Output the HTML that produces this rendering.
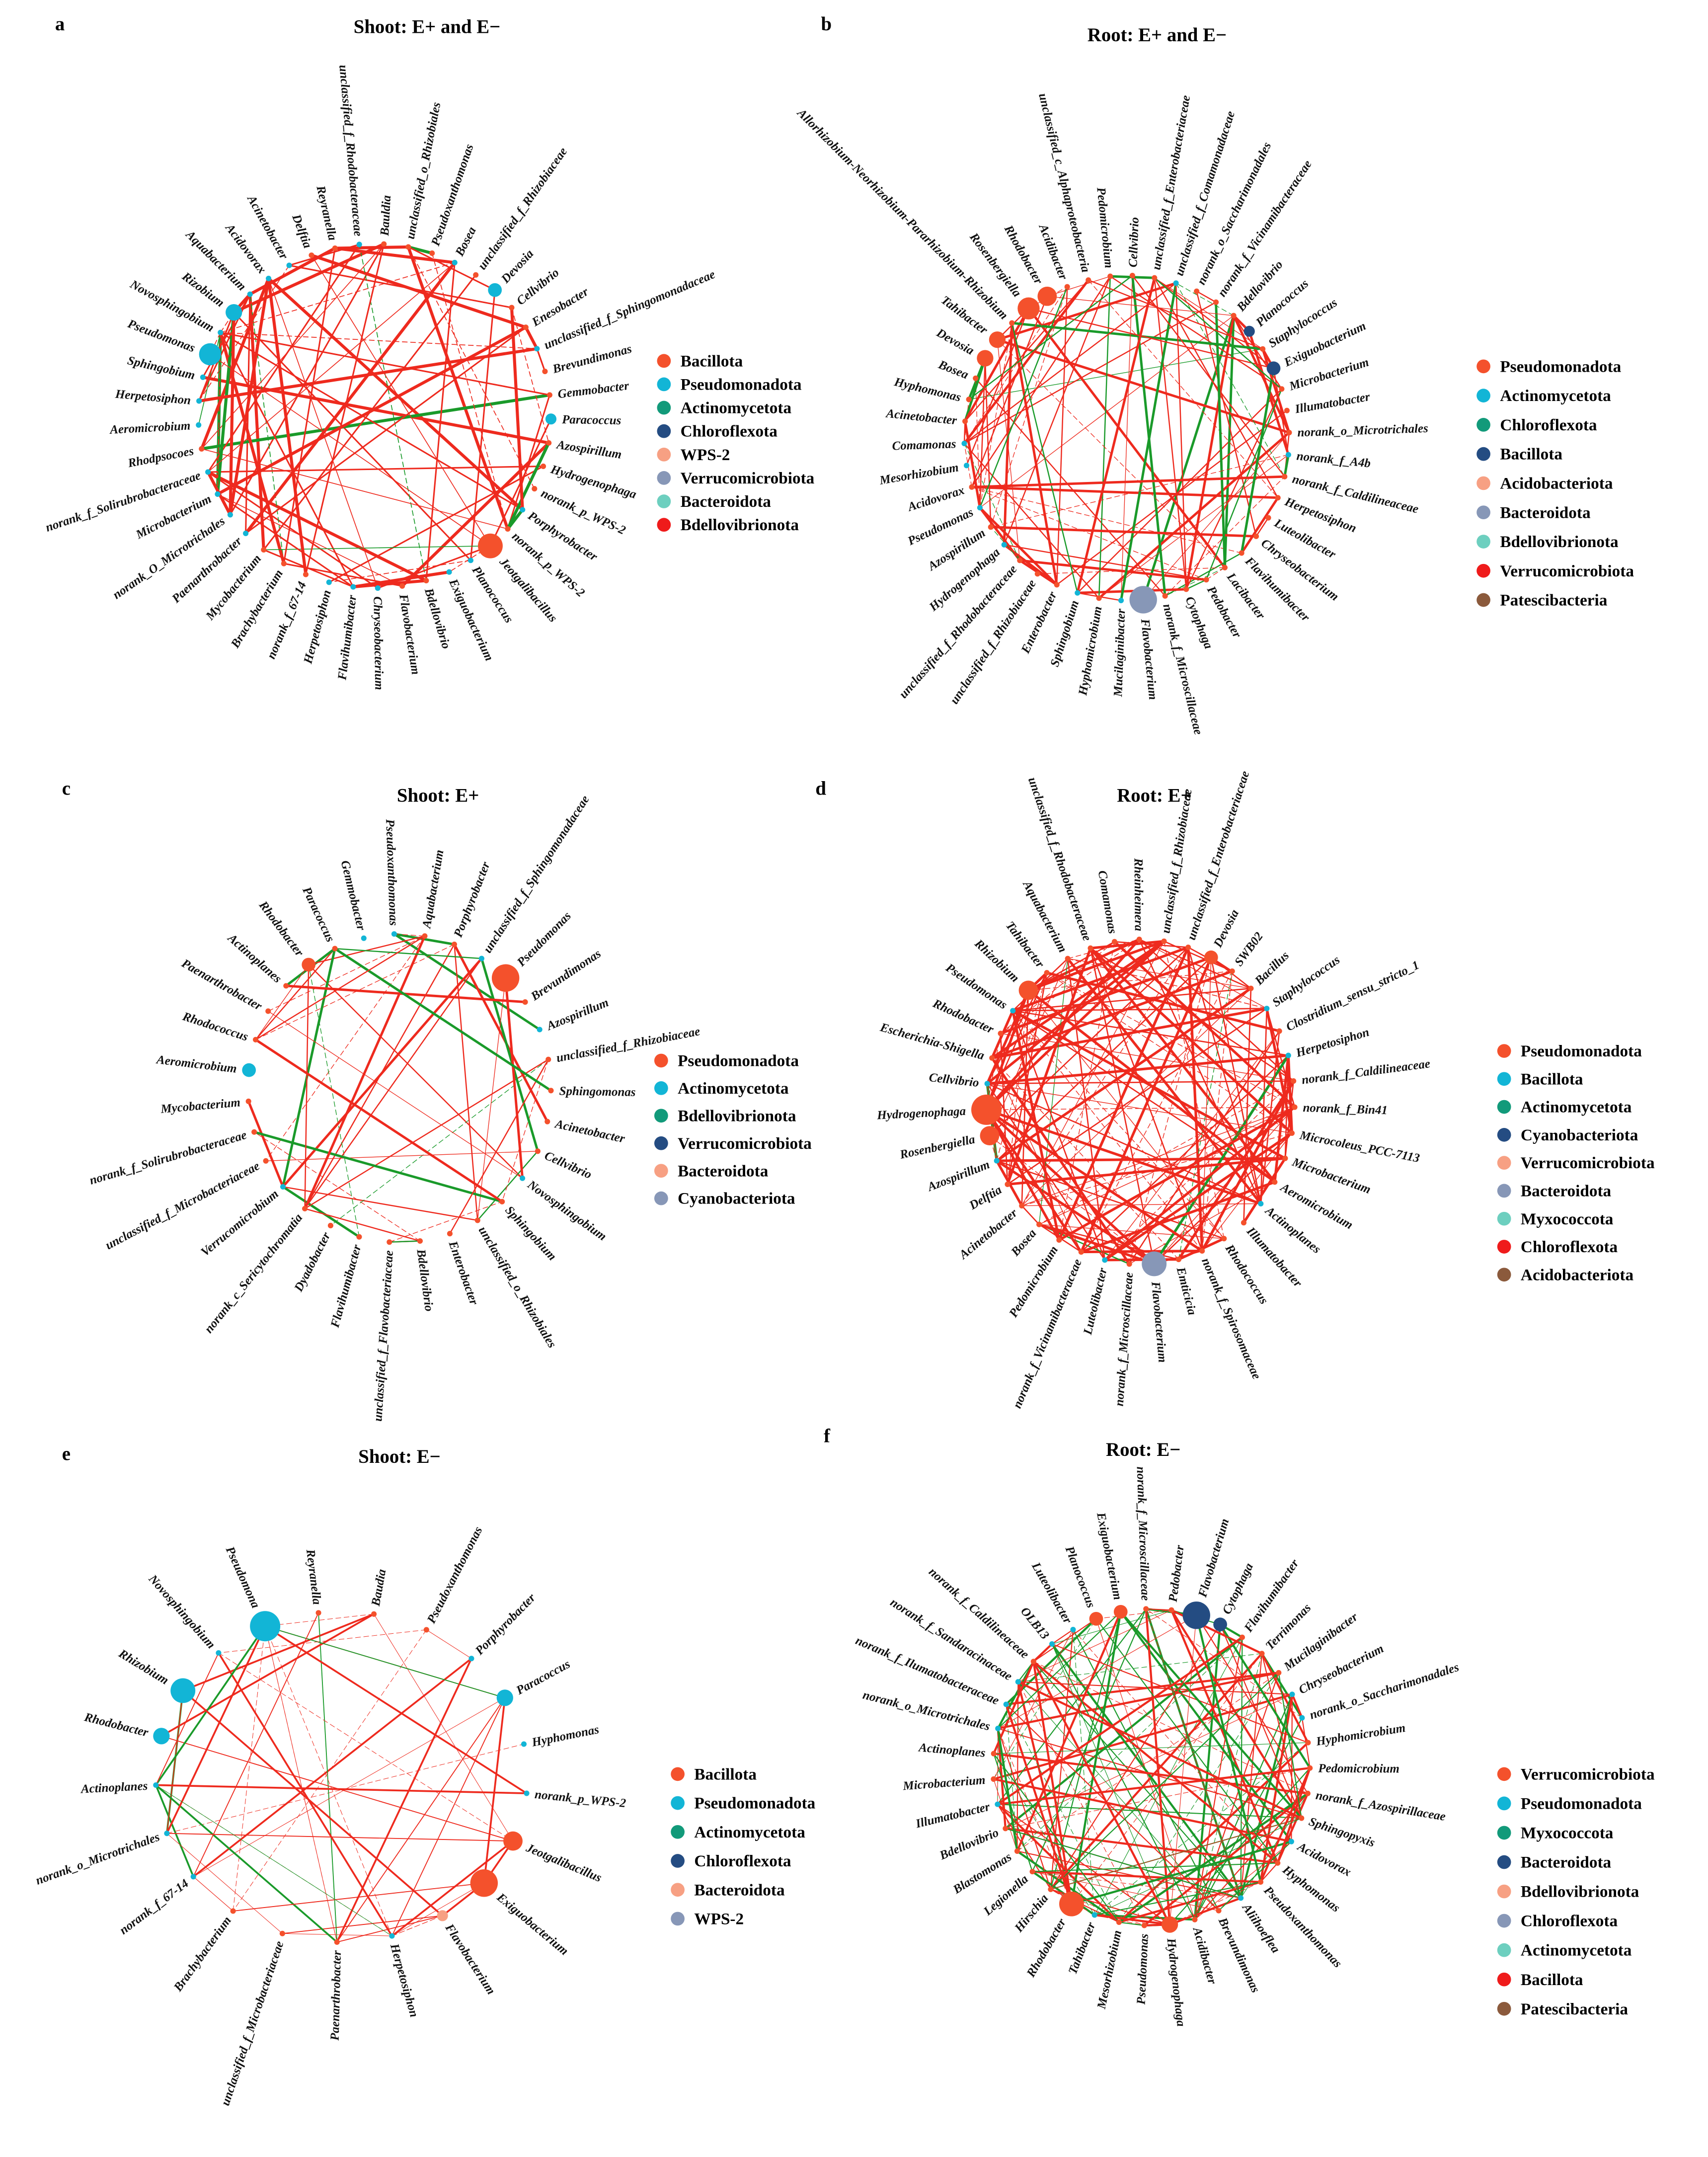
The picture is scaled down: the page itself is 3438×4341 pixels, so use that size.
<!DOCTYPE html>
<html><head><meta charset="utf-8"><style>
html,body{margin:0;padding:0;background:#fff;width:3438px;height:4341px;overflow:hidden}
svg{display:block}
text{font-family:"Liberation Serif",serif;font-weight:bold}
.l text{font-style:italic;font-size:9px;fill:#111}
.t{font-size:14px}
.lg text{font-size:12px}
</style></head><body>
<svg id="s" width="3438" height="4341" viewBox="0 0 1240 1566" preserveAspectRatio="none">
<g id="edges"></g><g id="nodes"></g>
<text x="40" y="22" class="t" font-size="13">a</text>
<text x="596" y="22" class="t" font-size="13">b</text>
<text x="45" y="577" class="t" font-size="13">c</text>
<text x="592" y="577" class="t" font-size="13">d</text>
<text x="45" y="1060" class="t" font-size="13">e</text>
<text x="598" y="1047" class="t" font-size="13">f</text>
<text x="310" y="24" class="t" text-anchor="middle">Shoot: E+ and E−</text>
<text x="840" y="30" class="t" text-anchor="middle">Root: E+ and E−</text>
<text x="318" y="582" class="t" text-anchor="middle">Shoot: E+</text>
<text x="838" y="582" class="t" text-anchor="middle">Root: E+</text>
<text x="290" y="1062" class="t" text-anchor="middle">Shoot: E−</text>
<text x="830" y="1057" class="t" text-anchor="middle">Root: E−</text>

<g class="l" id="la">
<text>Reyranella</text><text>unclassified_f_Rhodobacteraceae</text><text>Bauldia</text><text>unclassified_o_Rhizobiales</text><text>Pseudoxanthomonas</text><text>Bosea</text><text>unclassified_f_Rhizobiaceae</text><text>Devosia</text><text>Cellvibrio</text><text>Enesobacter</text><text>unclassified_f_Sphingomonadaceae</text><text>Brevundimonas</text><text>Gemmobacter</text><text>Paracoccus</text><text>Azospirillum</text><text>Hydrogenophaga</text><text>norank_p_WPS-2</text><text>Porphyrobacter</text><text>norank_p_WPS-2</text><text>Jeotgalibacillus</text><text>Planococcus</text><text>Exiguobacterium</text><text>Bdellovibrio</text><text>Flavobacterium</text><text>Chryseobacterium</text><text>Flavihumibacter</text><text>Herpetosiphon</text><text>norank_f_67-14</text><text>Brachybacterium</text><text>Mycobacterium</text><text>Paenarthrobacter</text><text>norank_O_Microtrichales</text><text>Microbacterium</text><text>norank_f_Solirubrobacteraceae</text><text>Rhodpsocoes</text><text>Aeromicrobium</text><text>Herpetosiphon</text><text>Sphingobium</text><text>Pseudomonas</text><text>Novosphingobium</text><text>Rizobium</text><text>Aquabacterium</text><text>Acidovorax</text><text>Acinetobacter</text><text>Delftia</text>
</g>
<g class="l" id="lb">
<text>Cellvibrio</text><text>unclassified_f_Enterobacteriaceae</text><text>unclassified_f_Comamonadaceae</text><text>norank_o_Saccharimonadales</text><text>norank_f_Vicinamibacteraceae</text><text>Bdellovibrio</text><text>Planococcus</text><text>Staphylococcus</text><text>Exiguobacterium</text><text>Microbacterium</text><text>Illumatobacter</text><text>norank_o_Microtrichales</text><text>norank_f_A4b</text><text>norank_f_Caldilineaceae</text><text>Herpetosiphon</text><text>Luteolibacter</text><text>Chryseobacterium</text><text>Flavihumibacter</text><text>Lacibacter</text><text>Pedobacter</text><text>Cytophaga</text><text>norank_f_Microscillaceae</text><text>Flavobacterium</text><text>Mucilaginibacter</text><text>Hyphomicrobium</text><text>Sphingobium</text><text>Enterobacter</text><text>unclassified_f_Rhizobiaceae</text><text>unclassified_f_Rhodobacteraceae</text><text>Hydrogenophaga</text><text>Azospirillum</text><text>Pseudomonas</text><text>Acidovorax</text><text>Mesorhizobium</text><text>Comamonas</text><text>Acinetobacter</text><text>Hyphomonas</text><text>Bosea</text><text>Devosia</text><text>Tahibacter</text><text>Allorhizobium-Neorhizobium-Pararhizobium-Rhizobium</text><text>Rosenbergiella</text><text>Rhodobacter</text><text>Acidibacter</text><text>unclassified_c_Alphaproteobacteria</text><text>Pedomicrobium</text>
</g>
<g class="l" id="lc">
<text>Pseudoxanthomonas</text><text>Aquabacterium</text><text>Porphyrobacter</text><text>unclassified_f_Sphingomonadaceae</text><text>Pseudomonas</text><text>Brevundimonas</text><text>Azospirillum</text><text>unclassified_f_Rhizobiaceae</text><text>Sphingomonas</text><text>Acinetobacter</text><text>Cellvibrio</text><text>Novosphingobium</text><text>Sphingobium</text><text>unclassified_o_Rhizobiales</text><text>Enterobacter</text><text>Bdellovibrio</text><text>unclassified_f_Flavobacteriaceae</text><text>Flavihumibacter</text><text>Dyadobacter</text><text>norank_c_Sericytochromatia</text><text>Verrucomicrobium</text><text>unclassified_f_Microbacteriaceae</text><text>norank_f_Solirubrobacteraceae</text><text>Mycobacterium</text><text>Aeromicrobium</text><text>Rhodococcus</text><text>Paenarthrobacter</text><text>Actinoplanes</text><text>Rhodobacter</text><text>Paracoccus</text><text>Gemmobacter</text>
</g>
<g class="l" id="ld">
<text>unclassified_f_Enterobacteriaceae</text><text>Devosia</text><text>SWB02</text><text>Bacillus</text><text>Staphylococcus</text><text>Clostridium_sensu_stricto_1</text><text>Herpetosiphon</text><text>norank_f_Caldilineaceae</text><text>norank_f_Bin41</text><text>Microcoleus_PCC-7113</text><text>Microbacterium</text><text>Aeromicrobium</text><text>Actinoplanes</text><text>Illumatobacter</text><text>Rhodococcus</text><text>norank_f_Spirosomaceae</text><text>Emticicia</text><text>Flavobacterium</text><text>norank_f_Microscillaceae</text><text>Luteolibacter</text><text>norank_f_Vicinamibacteraceae</text><text>Pedomicrobium</text><text>Bosea</text><text>Acinetobacter</text><text>Delftia</text><text>Azospirillum</text><text>Rosenbergiella</text><text>Hydrogenophaga</text><text>Cellvibrio</text><text>Escherichia-Shigella</text><text>Rhodobacter</text><text>Pseudomonas</text><text>Rhizobium</text><text>Tahibacter</text><text>Aquabacterium</text><text>unclassified_f_Rhodobacteraceae</text><text>Comamonas</text><text>Rheinheimera</text><text>unclassified_f_Rhizobiaceae</text>
</g>
<g class="l" id="le">
<text>Baudia</text><text>Pseudoxanthomonas</text><text>Porphyrobacter</text><text>Paracoccus</text><text>Hyphomonas</text><text>norank_p_WPS-2</text><text>Jeotgalibacillus</text><text>Exiguobacterium</text><text>Flavobacterium</text><text>Herpetosiphon</text><text>Paenarthrobacter</text><text>unclassified_f_Microbacteriaceae</text><text>Brachybacterium</text><text>norank_f_67-14</text><text>norank_o_Microtrichales</text><text>Actinoplanes</text><text>Rhodobacter</text><text>Rhizobium</text><text>Novosphingobium</text><text>Pseudomona</text><text>Reyranella</text>
</g>
<g class="l" id="lf">
<text>norank_f_Microscillaceae</text><text>Pedobacter</text><text>Flavobacterium</text><text>Cytophaga</text><text>Flavihumibacter</text><text>Terrimonas</text><text>Mucilaginibacter</text><text>Chryseobacterium</text><text>norank_o_Saccharimonadales</text><text>Hyphomicrobium</text><text>Pedomicrobium</text><text>norank_f_Azospirillaceae</text><text>Sphingopyxis</text><text>Acidovorax</text><text>Hyphomonas</text><text>Pseudoxanthomonas</text><text>Aliihoeflea</text><text>Brevundimonas</text><text>Acidibacter</text><text>Hydrogenophaga</text><text>Pseudomonas</text><text>Mesorhizobium</text><text>Tahibacter</text><text>Rhodobacter</text><text>Hirschia</text><text>Legionella</text><text>Blastomonas</text><text>Bdellovibrio</text><text>Illumatobacter</text><text>Microbacterium</text><text>Actinoplanes</text><text>norank_o_Microtrichales</text><text>norank_f_Ilumatobacteraceae</text><text>norank_f_Sandaracinaceae</text><text>norank_f_Caldilineaceae</text><text>OLB13</text><text>Luteolibacter</text><text>Planococcus</text><text>Exiguobacterium</text>
</g>

<g class="lg" id="lga"><text>Bacillota</text><text>Pseudomonadota</text><text>Actinomycetota</text><text>Chloroflexota</text><text>WPS-2</text><text>Verrucomicrobiota</text><text>Bacteroidota</text><text>Bdellovibrionota</text></g>
<g class="lg" id="lgb"><text>Pseudomonadota</text><text>Actinomycetota</text><text>Chloroflexota</text><text>Bacillota</text><text>Acidobacteriota</text><text>Bacteroidota</text><text>Bdellovibrionota</text><text>Verrucomicrobiota</text><text>Patescibacteria</text></g>
<g class="lg" id="lgc"><text>Pseudomonadota</text><text>Actinomycetota</text><text>Bdellovibrionota</text><text>Verrucomicrobiota</text><text>Bacteroidota</text><text>Cyanobacteriota</text></g>
<g class="lg" id="lgd"><text>Pseudomonadota</text><text>Bacillota</text><text>Actinomycetota</text><text>Cyanobacteriota</text><text>Verrucomicrobiota</text><text>Bacteroidota</text><text>Myxococcota</text><text>Chloroflexota</text><text>Acidobacteriota</text></g>
<g class="lg" id="lge"><text>Bacillota</text><text>Pseudomonadota</text><text>Actinomycetota</text><text>Chloroflexota</text><text>Bacteroidota</text><text>WPS-2</text></g>
<g class="lg" id="lgf"><text>Verrucomicrobiota</text><text>Pseudomonadota</text><text>Myxococcota</text><text>Bacteroidota</text><text>Bdellovibrionota</text><text>Chloroflexota</text><text>Actinomycetota</text><text>Bacillota</text><text>Patescibacteria</text></g>
</svg>
<script>
var NS="http://www.w3.org/2000/svg",seed=7;
function R(){seed=(seed*16807)%2147483647;return (seed-1)/2147483646;}
var red="#f4512c",blue="#12b5d6",navy="#244c82",grey="#8797b7",sal="#f7a083";
var legendCols={
lga:["#f4512c","#12b5d6","#129a7a","#244c82","#f7a083","#8797b7","#6dcfbf","#ef1b1b"],
lgb:["#f4512c","#12b5d6","#129a7a","#244c82","#f7a083","#8797b7","#6dcfbf","#ef1b1b","#8b5a3c"],
lgc:["#f4512c","#12b5d6","#129a7a","#244c82","#f7a083","#8797b7"],
lgd:["#f4512c","#12b5d6","#129a7a","#244c82","#f7a083","#8797b7","#6dcfbf","#ef1b1b","#8b5a3c"],
lge:["#f4512c","#12b5d6","#129a7a","#244c82","#f7a083","#8797b7"],
lgf:["#f4512c","#12b5d6","#129a7a","#244c82","#f7a083","#8797b7","#6dcfbf","#ef1b1b","#8b5a3c"]};
var legendPos={lga:[478,262,17],lgb:[1073,266,21.2],lgc:[476,770,20],lgd:[1088,763,20.3],lge:[488,1288,21],lgf:[1088,1288,21.3]};
for(var k in legendPos){var g=document.getElementById(k),p=legendPos[k],ts=g.querySelectorAll("text");
ts.forEach(function(t,i){t.setAttribute("x",p[0]+16);t.setAttribute("y",p[1]+i*p[2]+4);
var c=document.createElementNS(NS,"circle");c.setAttribute("cx",p[0]+4);c.setAttribute("cy",p[1]+i*p[2]);c.setAttribute("r",5);c.setAttribute("fill",legendCols[k][i]);g.appendChild(c);});}
var P=[["la",272,302,128,125,-103,90,0.12,{19:[9,red],38:[8,blue],40:[6,blue],7:[5,blue],13:[4,blue]},0.5,1],
["lb",818,318,118,118,-88,110,0.18,{22:[10,grey],41:[8,red],42:[7,red],39:[6,red],38:[6,red],6:[4,navy],8:[5,navy]},0.25,0.8],
["lc",290,790,110,112,-92,45,0.25,{4:[10,red],28:[5,red],24:[5,blue]},0.35,0.8],
["ld",828,800,112,118,-72,160,0.03,{27:[11,red],26:[7,red],17:[9,grey],32:[7,red],1:[5,red]},0.15,0.85],
["le",248,1290,135,120,-80,55,0.08,{19:[11,blue],17:[9,blue],16:[6,blue],3:[6,blue],6:[7,red],7:[10,red],8:[4,sal]},0.4,0.6],
["lf",836,1283,115,115,-92,170,0.4,{2:[10,navy],3:[5,navy],23:[9,red],19:[6,red],37:[5,red],38:[5,red]},0.2,0.7]];
var E=document.getElementById("edges"),N=document.getElementById("nodes");
P.forEach(function(p){var g=document.getElementById(p[0]),ts=g.querySelectorAll("text"),n=ts.length,pts=[];
for(var i=0;i<n;i++){var a=p[5]+i*360/n,ar=a*Math.PI/180,x=p[1]+p[3]*Math.cos(ar),y=p[2]+p[4]*Math.sin(ar);pts.push([x,y]);
var t=ts[i],na=((a%360)+360)%360,left=na>90&&na<270,rot=left?a+180:a,off=(p[8][i]?p[8][i][0]:2)+4;
t.setAttribute("transform","translate("+x.toFixed(1)+","+y.toFixed(1)+") rotate("+rot.toFixed(1)+") translate("+(left?-off:off)+",3)");
t.setAttribute("text-anchor",left?"end":"start");}
for(var e=0;e<p[6];e++){var a1=Math.floor(R()*n),a2=Math.floor(R()*n);if(a1==a2)continue;
var l=document.createElementNS(NS,"line"),gr=R()<p[7],th=R();
l.setAttribute("x1",pts[a1][0]);l.setAttribute("y1",pts[a1][1]);l.setAttribute("x2",pts[a2][0]);l.setAttribute("y2",pts[a2][1]);
l.setAttribute("stroke",gr?"#1a9a2a":"#ee2a1e");
l.setAttribute("stroke-width",((th<0.35?2.2:(th<0.7?1.1:0.6))*p[10]).toFixed(2));if(th>0.82)l.setAttribute("stroke-dasharray","4 2");
E.appendChild(l);}
for(var i=0;i<n;i++){var c=document.createElementNS(NS,"circle"),b=p[8][i];c.setAttribute("cx",pts[i][0]);c.setAttribute("cy",pts[i][1]);
c.setAttribute("r",b?b[0]:2);c.setAttribute("fill",b?b[1]:(R()<p[9]?blue:red));N.appendChild(c);}});
</script>
</body></html>
